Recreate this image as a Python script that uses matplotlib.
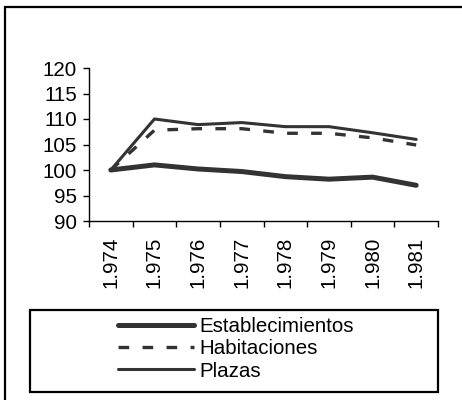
import matplotlib
matplotlib.use("Agg")
import matplotlib.pyplot as plt
from matplotlib.patches import Rectangle

years = ["1.974", "1.975", "1.976", "1.977", "1.978", "1.979", "1.980", "1.981"]
establecimientos = [100.0, 101.0, 100.2, 99.7, 98.7, 98.2, 98.6, 97.0]
habitaciones = [100.0, 107.8, 108.1, 108.1, 107.2, 107.2, 106.3, 104.9]
plazas = [100.0, 110.0, 108.9, 109.3, 108.5, 108.5, 107.3, 106.0]
yticks = [90, 95, 100, 105, 110, 115, 120]

plt.rcParams['font.family'] = ['Liberation Sans', 'DejaVu Sans']
W, H = 462, 400
fig = plt.figure(figsize=(W / 100, H / 100), dpi=100)

def fx(px):
    return px / W

def fy(py):
    return 1 - py / H

FS = 14.8
ax = fig.add_axes([fx(89), fy(221), fx(438) - fx(89), fy(68) - fy(221)])
col = "#333333"
x = list(range(len(years)))
ax.plot(x, establecimientos, color=col, lw=3.6, solid_capstyle='round', label="Establecimientos")
ax.plot(x, habitaciones, color=col, lw=2.4, dashes=(3.2, 4.0), label="Habitaciones")
ax.plot(x, plazas, color=col, lw=2.2, solid_capstyle='round', label="Plazas")

ax.set_xlim(-0.5, len(years) - 0.5)
ax.set_ylim(90, 120)
ax.set_yticks(yticks)
ax.set_yticklabels([str(v) for v in yticks], fontsize=FS)
ax.set_xticks([i - 0.5 for i in range(len(years) + 1)])
ax.set_xticklabels([])
ax.set_xticks(x, minor=True)
ax.set_xticklabels(years, minor=True, rotation=90, fontsize=FS)
ax.tick_params(axis='x', which='minor', length=0, pad=11)
ax.tick_params(axis='x', which='major', length=4, width=1, direction='out', color='black')
ax.tick_params(axis='y', length=4.5, width=1, pad=4, color='black')
for s in ['top', 'right']:
    ax.spines[s].set_visible(False)
for s in ['left', 'bottom']:
    ax.spines[s].set_linewidth(1)
    ax.spines[s].set_color('black')

# legend
fig.patches.append(Rectangle((fx(30), fy(392)), fx(438) - fx(30), fy(310) - fy(392),
                             transform=fig.transFigure, fill=False, ec='black', lw=1.6))
handles, labels = ax.get_legend_handles_labels()
fig.legend(handles, labels, loc='center', bbox_to_anchor=(fx(236), fy(349)),
           frameon=False, fontsize=FS, handlelength=3.7, handletextpad=0.3,
           labelspacing=0.15, borderpad=0, borderaxespad=0)

# outer frame
fig.patches.append(Rectangle((fx(5), -0.1), 1.2, fy(7) + 0.1,
                             transform=fig.transFigure, fill=False, ec='black', lw=1.6,
                             clip_on=False))

fig.savefig("out.png", dpi=100)
